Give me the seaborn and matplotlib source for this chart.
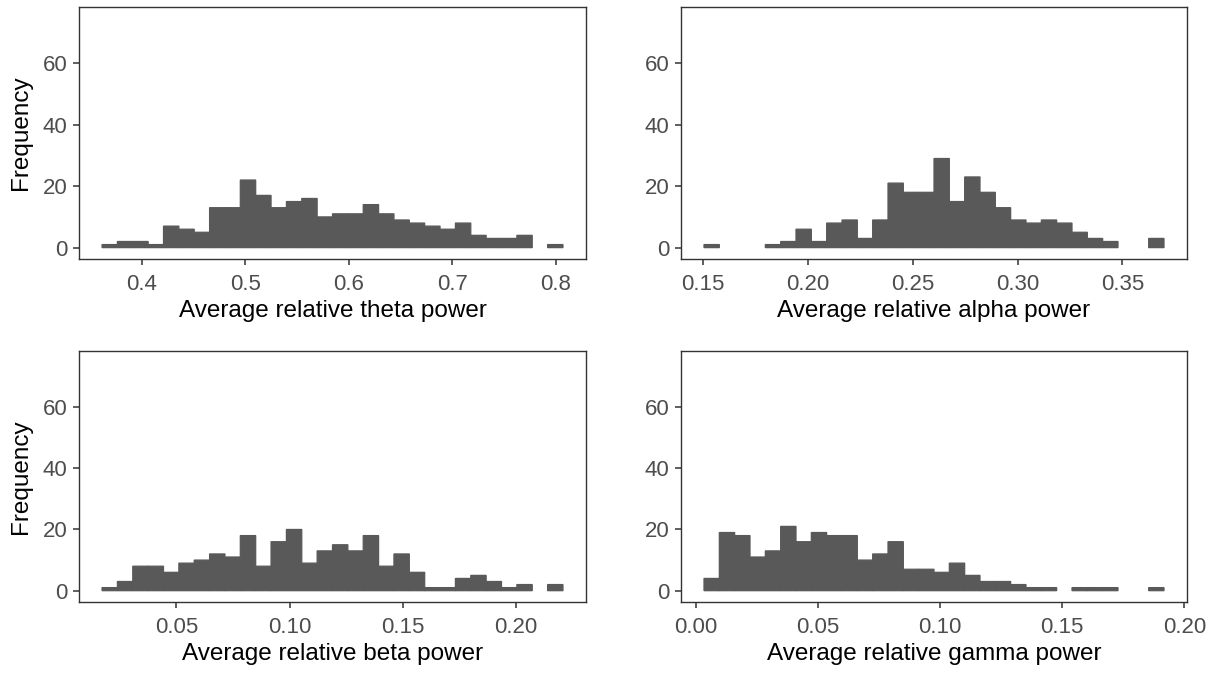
import numpy as np
import pandas as pd
import matplotlib
matplotlib.use("Agg")
import matplotlib.pyplot as plt
import seaborn as sns

# ---- data (30 bins per panel, counts) ----
theta_start, theta_width = 0.3616, 0.01485
theta_counts = [1, 2, 2, 1, 7, 6, 5, 13, 13, 22, 17, 13, 15, 16, 10,
                11, 11, 14, 11, 9, 8, 7, 6, 8, 4, 3, 3, 4, 0, 1]

alpha_start, alpha_width = 0.1505, 0.00731
alpha_counts = [1, 0, 0, 0, 1, 2, 6, 2, 8, 9, 3, 9, 21, 18, 18,
                29, 15, 23, 18, 13, 9, 8, 9, 8, 5, 3, 2, 0, 0, 3]

beta_start, beta_width = 0.0171, 0.00679
beta_counts = [1, 3, 8, 8, 6, 9, 10, 12, 11, 18, 8, 16, 20, 9, 13,
               15, 13, 18, 8, 12, 6, 1, 1, 4, 5, 3, 1, 2, 0, 2]

gamma_start, gamma_width = 0.00338, 0.006277
gamma_counts = [4, 19, 18, 11, 13, 21, 16, 19, 18, 18, 10, 12, 16, 7, 7,
                6, 9, 5, 3, 3, 2, 1, 1, 0, 1, 1, 1, 0, 0, 1]

x_titles = ["Average relative theta power", "Average relative alpha power",
            "Average relative beta power", "Average relative gamma power"]
x_ticks = [[0.4, 0.5, 0.6, 0.7, 0.8],
           [0.15, 0.20, 0.25, 0.30, 0.35],
           [0.05, 0.10, 0.15, 0.20],
           [0.00, 0.05, 0.10, 0.15, 0.20]]
x_fmt = ["{:.1f}", "{:.2f}", "{:.2f}", "{:.2f}"]
y_ticks = [0, 20, 40, 60]
y_title = "Frequency"

# ---- style ----
sns.set_style("white")
plt.rcParams["font.family"] = ["Liberation Sans", "DejaVu Sans"]

W, H = 1213, 673
fig = plt.figure(figsize=(W / 100, H / 100), dpi=100)

# axes boxes in pixels: (left, top, right, bottom)
boxes = [(79, 7, 586, 259), (681, 7, 1187, 259),
         (79, 351, 586, 602), (681, 351, 1187, 602)]

panels = [(theta_start, theta_width, theta_counts),
          (alpha_start, alpha_width, alpha_counts),
          (beta_start, beta_width, beta_counts),
          (gamma_start, gamma_width, gamma_counts)]

FILL = "#595959"

for i, ((start, width, counts), box) in enumerate(zip(panels, boxes)):
    l, t, r, b = box
    ax = fig.add_axes([l / W, 1 - b / H, (r - l) / W, (b - t) / H])
    n = len(counts)
    edges = [start + width * k for k in range(n + 1)]
    centers = [(edges[k] + edges[k + 1]) / 2 for k in range(n)]
    df = pd.DataFrame({"x": centers, "count": counts})
    sns.histplot(data=df, x="x", weights="count", bins=edges, ax=ax,
                 color=FILL, alpha=1, edgecolor=FILL, linewidth=0.9)
    # empty bins draw nothing (as in the reference)
    for p in ax.patches:
        p.set_snap(False)
        if p.get_height() <= 0:
            p.set_visible(False)
    span = edges[-1] - edges[0]
    ax.set_xlim(edges[0] - 0.05 * span, edges[-1] + 0.05 * span)
    ax.set_ylim(-3.7, 78.3)
    ax.set_xticks(x_ticks[i])
    ax.set_xticklabels([x_fmt[i].format(v) for v in x_ticks[i]])
    ax.set_yticks(y_ticks)
    ax.set_yticklabels([str(v) for v in y_ticks])
    ax.tick_params(axis="both", which="major", length=4, width=1.1,
                   color="#333333", labelsize=16, labelcolor="#4D4D4D",
                   bottom=True, left=True)
    ax.tick_params(axis="x", pad=6.5)
    ax.tick_params(axis="y", pad=4.5)
    for sp in ax.spines.values():
        sp.set_visible(True)
        sp.set_color("#333333")
        sp.set_linewidth(1.0)
    ax.set_xlabel(x_titles[i], fontsize=17.5, color="black", labelpad=4)
    if i % 2 == 0:
        ax.set_ylabel(y_title, fontsize=17.5, color="black", labelpad=7.5)
    else:
        ax.set_ylabel("")
    ax.grid(False)

fig.savefig("out.png", dpi=100)
